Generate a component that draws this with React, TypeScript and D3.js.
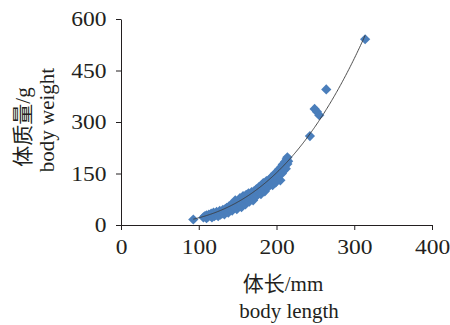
import * as d3 from "d3";
import React, { useEffect, useRef } from "react";

// body length (mm) of each fish
const bodyLength = [
  93, 106, 108, 110, 110, 112, 113, 115, 116, 117, 118, 119, 120, 121, 122, 123,
  124, 125, 126, 127, 128, 129, 130, 131, 132, 133, 134, 135, 136, 137, 138, 139,
  140, 141, 142, 143, 144, 145, 146, 147, 148, 149, 150, 151, 152, 153, 154, 155,
  156, 157, 158, 159, 160, 161, 162, 163, 164, 165, 166, 167, 168, 169, 170, 171,
  172, 173, 174, 175, 176, 177, 178, 179, 180, 181, 182, 183, 184, 185, 186, 187,
  188, 189, 190, 191, 192, 193, 194, 195, 196, 197, 198, 199, 200, 201, 202, 203,
  204, 205, 206, 207, 208, 209, 210, 211, 212, 213, 214, 215, 214,
  243, 249, 252, 255, 264, 314,
];

// body weight (g) of each fish, same order
const bodyWeight = [
  16, 22, 26, 20, 28, 24, 30, 27, 33, 22, 30, 36, 26, 33, 29, 38,
  32, 26, 36, 41, 30, 38, 34, 44, 40, 31, 46, 38, 50, 42, 36, 54,
  46, 58, 50, 42, 56, 62, 50, 72, 58, 46, 64, 70, 56, 78, 62, 52,
  72, 84, 66, 76, 60, 88, 70, 80, 92, 68, 84, 76, 96, 88, 72, 98,
  82, 92, 104, 86, 100, 110, 94, 104, 90, 116, 100, 122, 110, 98, 118, 128,
  108, 124, 114, 132, 120, 138, 126, 116, 142, 132, 150, 124, 140, 154, 134, 162,
  146, 130, 168, 150, 176, 158, 170, 184, 164, 192, 178, 186, 197,
  259, 338, 330, 320, 395, 541,
];

// power trendline W = a * L^b
const trendA = 3.99e-5;
const trendB = 2.86;

const xTicks = [0, 100, 200, 300, 400];
const yTicks = [0, 150, 300, 450, 600];

const xTitle = ["体长/mm", "body length"];
const yTitle = ["体质量/g", "body weight"];

const W = 450;
const H = 325;
const margin = { top: 19, right: 18, bottom: 100, left: 121 };
const font = "'Liberation Serif', 'Times New Roman', 'Noto Sans CJK SC', serif";
const ink = "#231f20";
const dotColor = "#4a7ebb";
const stretch = 1.12; // the figure's type is a bit wider than Liberation Serif

export default function App() {
  const svgRef = useRef(null);

  useEffect(() => {
    const svg = d3.select(svgRef.current);
    svg.selectAll("*").remove();

    const data = bodyLength.map((l, i) => ({ l, w: bodyWeight[i] }));

    const x = d3.scaleLinear().domain([0, 400]).range([margin.left, W - margin.right]);
    const y = d3.scaleLinear().domain([0, 600]).range([H - margin.bottom, margin.top]);

    // x axis
    const gx = svg
      .append("g")
      .attr("transform", `translate(0,${H - margin.bottom})`)
      .call(d3.axisBottom(x).tickValues(xTicks).tickSize(5).tickSizeOuter(0).tickPadding(9));
    gx.select(".domain").attr("stroke", ink);
    gx.selectAll(".tick line").attr("stroke", ink);
    gx.selectAll("text")
      .attr("font-family", font)
      .attr("font-size", 21)
      .attr("fill", ink)
      .attr("transform", `scale(${stretch},1)`);

    // y axis
    const gy = svg
      .append("g")
      .attr("transform", `translate(${margin.left},0)`)
      .call(d3.axisLeft(y).tickValues(yTicks).tickSize(5).tickSizeOuter(0).tickPadding(8));
    gy.select(".domain").attr("stroke", ink);
    gy.selectAll(".tick line").attr("stroke", ink);
    gy.selectAll("text")
      .attr("font-family", font)
      .attr("font-size", 21)
      .attr("fill", ink)
      .attr("transform", `scale(${stretch},1)`);

    // trendline over the range of the data
    const [lMin, lMax] = d3.extent(bodyLength);
    const trend = d3.range(lMin, lMax + 1, 1).map((l) => ({ l, w: trendA * Math.pow(l, trendB) }));

    // points
    svg
      .append("g")
      .selectAll("path")
      .data(data)
      .join("path")
      .attr("d", d3.symbol(d3.symbolSquare, 52))
      .attr("transform", (d) => `translate(${x(d.l)},${y(d.w)}) rotate(45)`)
      .attr("fill", dotColor);

    svg
      .append("path")
      .datum(trend)
      .attr("fill", "none")
      .attr("stroke", "#3a3a3a")
      .attr("stroke-width", 0.9)
      .attr(
        "d",
        d3
          .line()
          .x((d) => x(d.l))
          .y((d) => y(d.w))
      );

    // axis titles
    const xt = svg
      .append("text")
      .attr("font-family", font)
      .attr("font-size", 21)
      .attr("fill", ink)
      .attr("text-anchor", "middle");
    xt.append("tspan").attr("x", 283).attr("y", 291).text(xTitle[0]);
    xt.append("tspan").attr("x", 289).attr("y", 318).text(xTitle[1]);

    const yt = svg
      .append("text")
      .attr("font-family", font)
      .attr("font-size", 21)
      .attr("fill", ink)
      .attr("text-anchor", "middle")
      .attr("transform", "rotate(-90)");
    yt.append("tspan").attr("x", -127).attr("y", 30).text(yTitle[0]);
    yt.append("tspan").attr("x", -120).attr("y", 54).text(yTitle[1]);
  }, []);

  return (
    <svg
      ref={svgRef}
      width={W}
      height={H}
      style={{ position: "absolute", left: 0, top: 0, background: "#fff" }}
    ></svg>
  );
}
